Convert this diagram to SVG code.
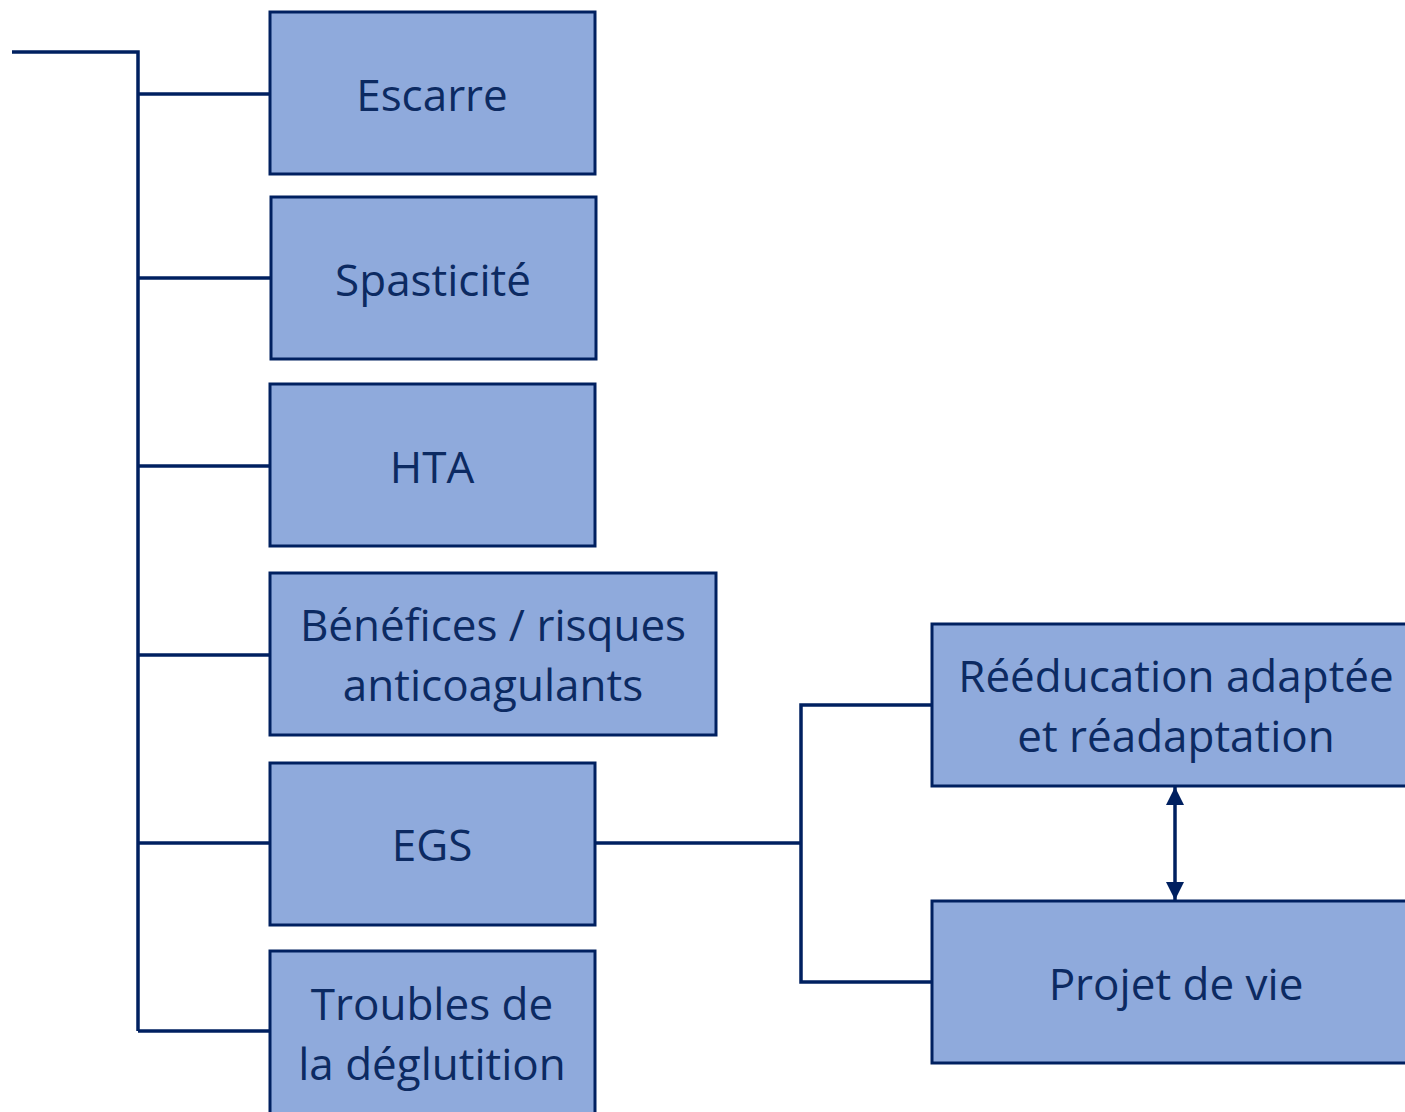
<svg xmlns="http://www.w3.org/2000/svg" width="1405" height="1112" viewBox="0 0 1405 1112">
<style>
.box{fill:#8FAADC;stroke:#002060;stroke-width:3}
.t{font-family:"Open Sans","Noto Sans",sans-serif;font-size:44px;font-weight:500;fill:#0C2A62;text-anchor:middle}
.c{fill:none;stroke:#002060;stroke-width:3.5}
</style>
<defs>
<marker id="ah" viewBox="0 0 18 18" refX="18" refY="9" markerWidth="18" markerHeight="18" orient="auto-start-reverse" markerUnits="userSpaceOnUse">
<path d="M0,0 L18,9 L0,18 z" fill="#002060"/>
</marker>
</defs>
<rect width="1405" height="1112" fill="#ffffff"/>
<g id="connectors">
<polyline class="c" points="12,52 138,52 138,1031"/>
<line class="c" x1="138" y1="94" x2="270" y2="94"/>
<line class="c" x1="138" y1="278" x2="271" y2="278"/>
<line class="c" x1="138" y1="466" x2="270" y2="466"/>
<line class="c" x1="138" y1="655" x2="270" y2="655"/>
<line class="c" x1="138" y1="843" x2="270" y2="843"/>
<line class="c" x1="138" y1="1031" x2="270" y2="1031"/>
<line class="c" x1="595" y1="843" x2="801" y2="843"/>
<polyline class="c" points="932,705 801,705 801,982 932,982"/>
<line class="c" x1="1175" y1="787" x2="1175" y2="900" marker-start="url(#ah)" marker-end="url(#ah)"/>
</g>
<g id="escarre"><rect class="box" x="270" y="12" width="325" height="162"/><text class="t" x="432" y="111">Escarre</text></g>
<g id="spasticite"><rect class="box" x="271" y="197" width="325" height="162"/><text class="t" x="433" y="296">Spasticité</text></g>
<g id="hta"><rect class="box" x="270" y="384" width="325" height="162"/><text class="t" x="432" y="483">HTA</text></g>
<g id="benefices"><rect class="box" x="270" y="573" width="446" height="162"/><text class="t" x="493" y="641">Bénéfices / risques</text><text class="t" x="493" y="701">anticoagulants</text></g>
<g id="egs"><rect class="box" x="270" y="763" width="325" height="162"/><text class="t" x="432" y="861">EGS</text></g>
<g id="troubles"><rect class="box" x="270" y="951" width="325" height="170"/><text class="t" x="432" y="1020">Troubles de</text><text class="t" x="432" y="1080">la déglutition</text></g>
<g id="reeducation"><rect class="box" x="932" y="624" width="485" height="162"/><text class="t" x="1176" y="692">Rééducation adaptée</text><text class="t" x="1176" y="752">et réadaptation</text></g>
<g id="projet"><rect class="box" x="932" y="901" width="485" height="162"/><text class="t" x="1176" y="1000">Projet de vie</text></g>
</svg>
